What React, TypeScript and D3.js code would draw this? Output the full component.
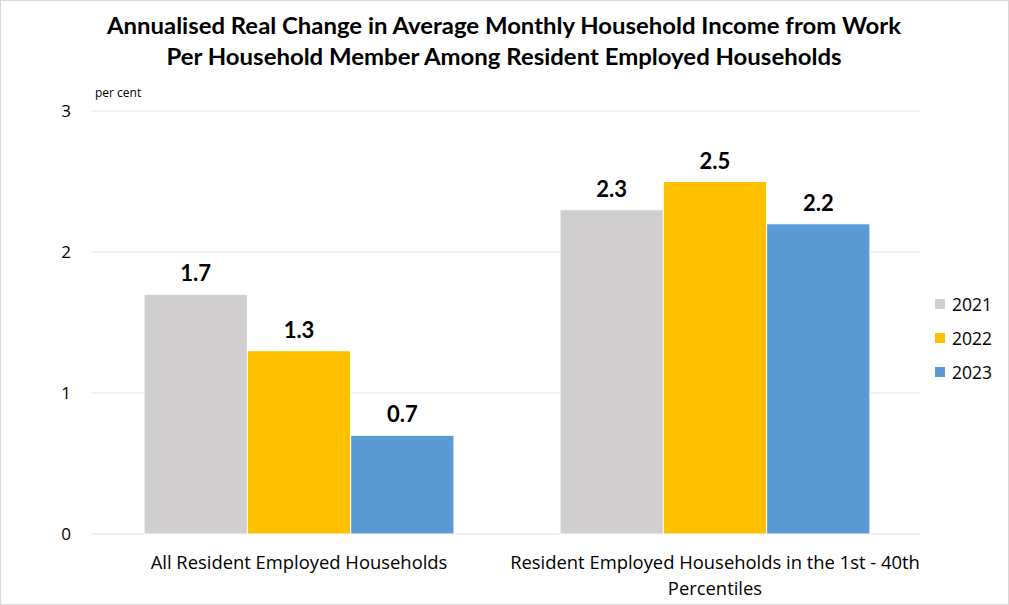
import React from "react";
import * as d3 from "d3";

const categories = ["All Resident Employed Households", "Resident Employed Households in the 1st - 40th Percentiles"];
const categoryLines = [["All Resident Employed Households"], ["Resident Employed Households in the 1st - 40th", "Percentiles"]];
const seriesNames = ["2021", "2022", "2023"];
const values2021 = [1.7, 2.3];
const values2022 = [1.3, 2.5];
const values2023 = [0.7, 2.2];
const seriesColors = ["#D0CECE", "#FFC000", "#5B9BD5"];
const yTicks = [0, 1, 2, 3];
const titleLines = [
  "Annualised Real Change in Average Monthly Household Income from Work",
  "Per Household Member Among Resident Employed Households",
];
const titleWidths = [794, 675];

const W = 1009;
const H = 605;
const plot = { left: 91, right: 920, top: 111, bottom: 534 };

export default function App() {
  const series = [values2021, values2022, values2023];
  const x0 = d3.scaleBand<string>().domain(categories).range([90, 924]).paddingInner(0.255).paddingOuter(0.13);
  const x1 = d3.scaleBand<string>().domain(seriesNames).range([0, x0.bandwidth()]).padding(0);
  const y = d3.scaleLinear().domain([0, 3]).range([plot.bottom, plot.top]);
  const font = "Lato, 'Open Sans', sans-serif";
  const textFont = "'Open Sans', 'Noto Sans', sans-serif";

  return (
    <svg width={W} height={H} style={{ position: "absolute", left: 0, top: 0, background: "#fff" }}>
      <rect x={0.5} y={0.5} width={W - 1} height={H - 1} fill="#fff" stroke="#D9D9D9" />
      {titleLines.map((t, i) => (
        <text key={i} x={504} y={34 + i * 31} textAnchor="middle" fontFamily={font} fontWeight="bold" fontSize={23} fill="#000"
          textLength={titleWidths[i]} lengthAdjust="spacingAndGlyphs">
          {t}
        </text>
      ))}
      <text x={95} y={97} fontFamily={textFont} fontSize={12} fill="#000">per cent</text>
      {yTicks.map((t) => (
        <g key={t}>
          <line x1={plot.left} x2={plot.right} y1={y(t)} y2={y(t)} stroke="#DEE3EA" strokeWidth={1} />
          <text x={66} y={y(t) + 6} textAnchor="middle" fontFamily={textFont} fontSize={17} fill="#000">{t}</text>
        </g>
      ))}
      {categories.map((c, ci) => (
        <g key={c} transform={`translate(${x0(c)},0)`}>
          {seriesNames.map((s, si) => {
            const v = series[si][ci];
            const bx = x1(s)!;
            return (
              <g key={s}>
                <rect x={bx} y={y(v)} width={x1.bandwidth()} height={y(0) - y(v)} fill={seriesColors[si]} stroke="#fff" strokeWidth={1} />
                <text x={bx + x1.bandwidth() / 2} y={y(v) - 13} textAnchor="middle" fontFamily={font} fontWeight="bold" fontSize={22} fill="#000">
                  {v.toFixed(1)}
                </text>
              </g>
            );
          })}
          {categoryLines[ci].map((line, li) => (
            <text key={li} x={x0.bandwidth() / 2} y={569 + li * 26} textAnchor="middle" fontFamily={textFont} fontSize={18.4} fill="#000">
              {line}
            </text>
          ))}
        </g>
      ))}
      {seriesNames.map((s, si) => (
        <g key={s} transform={`translate(935,${305 + si * 34})`}>
          <rect x={0} y={-6} width={10} height={10} fill={seriesColors[si]} />
          <text x={17} y={6} fontFamily={textFont} fontSize={17.5} fill="#000">{s}</text>
        </g>
      ))}
    </svg>
  );
}
